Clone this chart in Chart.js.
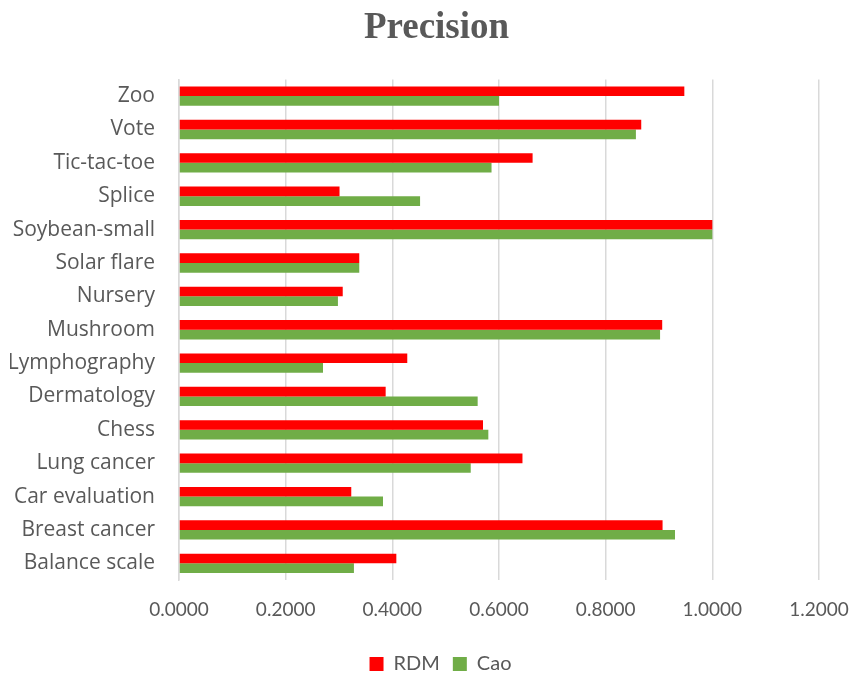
<!DOCTYPE html>
<html>
<head>
<meta charset="utf-8">
<script src="https://cdn.jsdelivr.net/npm/chart.js@4"></script>
<style>
  html, body { margin: 0; padding: 0; background: #fff; }
  #wrap { width: 867px; height: 677px; }
</style>
</head>
<body>
<div id="wrap"><canvas id="precisionChart" width="867" height="677"></canvas></div>
<script>
// data
const datasetNames = ['Zoo', 'Vote', 'Tic-tac-toe', 'Splice', 'Soybean-small', 'Solar flare', 'Nursery',
    'Mushroom', 'Lymphography', 'Dermatology', 'Chess', 'Lung cancer', 'Car evaluation',
    'Breast cancer', 'Balance scale'];
const rdmValues = [0.9475, 0.8667, 0.6630, 0.3010, 1.0000, 0.3380, 0.3070,
    0.9060, 0.4280, 0.3875, 0.5700, 0.6440, 0.3230, 0.9067, 0.4075];
const caoValues = [0.6000, 0.8567, 0.5860, 0.4520, 1.0000, 0.3380, 0.2980,
    0.9020, 0.2700, 0.5600, 0.5800, 0.5470, 0.3825, 0.9300, 0.3280];
const xTicks = [0, 0.2, 0.4, 0.6, 0.8, 1.0, 1.2];

const labelFont = "Lato, 'Open Sans', sans-serif";
const ctx = document.getElementById('precisionChart').getContext('2d');

// title and legend sit centred on the whole picture, not on the padded box
const shiftHeader = {
    id: 'shiftHeader',
    afterLayout(chart) {
        chart.titleBlock.left += 22;
        chart.titleBlock.right += 22;
        chart.legend.left += 26;
        chart.legend.right += 26;
    }
};

const precisionChart = new Chart(ctx, {
    type: 'bar',
    data: {
        labels: datasetNames,
        datasets: [
            { label: 'RDM', data: rdmValues, backgroundColor: '#ff0000' },
            { label: 'Cao', data: caoValues, backgroundColor: '#70ad47' }
        ]
    },
    options: {
        indexAxis: 'y',
        responsive: false,
        animation: false,
        layout: { padding: { left: 10, right: 48, top: 4, bottom: -7 } },
        datasets: {
            bar: { barPercentage: 1.0, categoryPercentage: 0.58 }
        },
        scales: {
            x: {
                min: 0,
                max: 1.2,
                afterBuildTicks: (scale) => {
                    scale.ticks = xTicks.map(v => ({ value: v }));
                },
                afterFit: (scale) => { scale.height = 61; },
                ticks: {
                    callback: (v) => Number(v).toFixed(4),
                    color: '#595959',
                    font: { family: labelFont, size: 19 },
                    padding: 18
                },
                grid: { color: '#d9d9d9', lineWidth: 1.5, drawTicks: false },
                border: { display: false }
            },
            y: {
                afterFit: (scale) => { scale.width = 169; },
                ticks: {
                    color: '#595959',
                    font: { family: "'Open Sans', Lato, sans-serif", size: 21 },
                    padding: 24
                },
                grid: { display: false, drawTicks: false },
                border: { color: '#d9d9d9', width: 1.5 }
            }
        },
        plugins: {
            title: {
                display: true,
                text: 'Precision',
                color: '#595959',
                font: { family: "'Liberation Serif', 'Times New Roman', serif", size: 37, weight: 'bold' },
                padding: { top: 2, bottom: 29 }
            },
            legend: {
                position: 'bottom',
                labels: {
                    color: '#595959',
                    font: { family: labelFont, size: 20 },
                    boxWidth: 14,
                    boxHeight: 14,
                    padding: 13
                }
            },
            tooltip: { enabled: false }
        }
    },
    plugins: [shiftHeader]
});
</script>
</body>
</html>
